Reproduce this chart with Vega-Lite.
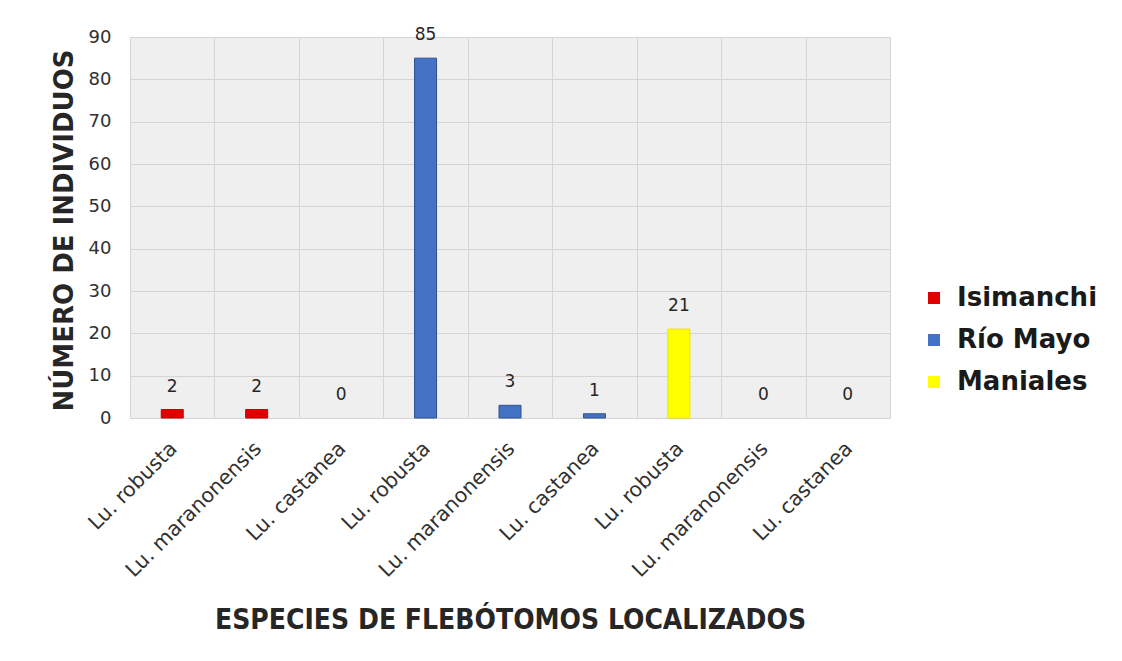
{
  "$schema": "https://vega.github.io/schema/vega-lite/v6.json",
  "autosize": {"type": "none"},
  "width": 760,
  "height": 381,
  "padding": {"left": 130, "top": 37, "right": 232, "bottom": 243},
  "background": "white",
  "config": {
    "font": "DejaVu Sans",
    "view": {"fill": "#efefef", "stroke": "#d4d4d4", "strokeWidth": 1}
  },
  "data": {
    "values": [
      {"key": "Isimanchi|Lu. robusta", "sitio": "Isimanchi", "n": 2},
      {"key": "Isimanchi|Lu. maranonensis", "sitio": "Isimanchi", "n": 2},
      {"key": "Isimanchi|Lu. castanea", "sitio": "Isimanchi", "n": 0},
      {"key": "Río Mayo|Lu. robusta", "sitio": "Río Mayo", "n": 85},
      {"key": "Río Mayo|Lu. maranonensis", "sitio": "Río Mayo", "n": 3},
      {"key": "Río Mayo|Lu. castanea", "sitio": "Río Mayo", "n": 1},
      {"key": "Maniales|Lu. robusta", "sitio": "Maniales", "n": 21},
      {"key": "Maniales|Lu. maranonensis", "sitio": "Maniales", "n": 0},
      {"key": "Maniales|Lu. castanea", "sitio": "Maniales", "n": 0}
    ]
  },
  "encoding": {
    "x": {
      "field": "key",
      "type": "nominal",
      "sort": null,
      "scale": {"paddingInner": 0, "paddingOuter": 0},
      "axis": {
        "title": "ESPECIES DE FLEBÓTOMOS LOCALIZADOS",
        "titleFont": "DejaVu Sans Condensed",
        "titleFontSize": 28,
        "titleFontWeight": "bold",
        "titleColor": "#262626",
        "titleX": 380,
        "titleY": 210,
        "titleBaseline": "alphabetic",
        "labelExpr": "split(datum.label, '|')[1]",
        "labelAngle": -45,
        "labelFontSize": 20.5,
        "labelLimit": 0,
        "labelColor": "#303030",
        "labelPadding": 20,
        "labelOffset": -6,
        "ticks": false,
        "tickBand": "extent",
        "grid": true,
        "gridColor": "#d4d4d4",
        "domainColor": "#d4d4d4"
      }
    },
    "y": {
      "field": "n",
      "type": "quantitative",
      "scale": {"domain": [0, 90]},
      "axis": {
        "title": "NÚMERO DE INDIVIDUOS",
        "titleFont": "DejaVu Sans",
        "titleFontSize": 26,
        "titleFontWeight": "bold",
        "titleColor": "#262626",
        "titleX": -66,
        "titleY": 193,
        "titleAlign": "center",
        "titleBaseline": "middle",
        "values": [0, 10, 20, 30, 40, 50, 60, 70, 80, 90],
        "labelFontSize": 18,
        "labelColor": "#303030",
        "labelPadding": 19,
        "ticks": false,
        "domain": false,
        "gridColor": "#d4d4d4"
      }
    }
  },
  "layer": [
    {
      "mark": {"type": "bar", "width": 22, "strokeWidth": 1},
      "encoding": {
        "fill": {
          "field": "sitio",
          "type": "nominal",
          "scale": {"domain": ["Isimanchi", "Río Mayo", "Maniales"], "range": ["#e00000", "#4472c4", "#ffff00"]},
          "legend": {
            "title": null,
            "orient": "none",
            "legendX": 791,
            "legendY": 248,
            "symbolType": "square",
            "symbolSize": 144,
            "symbolStrokeWidth": 0,
            "labelFont": "DejaVu Sans",
            "labelFontSize": 26,
            "labelFontWeight": "bold",
            "labelColor": "#1a1a1a",
            "labelOffset": 10,
            "rowPadding": 16
          }
        },
        "stroke": {
          "field": "sitio",
          "type": "nominal",
          "scale": {"domain": ["Isimanchi", "Río Mayo", "Maniales"], "range": ["#c00000", "#2f528f", "#e8e800"]},
          "legend": null
        },
        "strokeOpacity": {"condition": {"test": "datum.n == 0", "value": 0}, "value": 1}
      }
    },
    {
      "mark": {"type": "text", "baseline": "middle", "dy": -23, "fontSize": 17, "color": "#262626"},
      "encoding": {"text": {"field": "n", "type": "quantitative"}}
    }
  ]
}
